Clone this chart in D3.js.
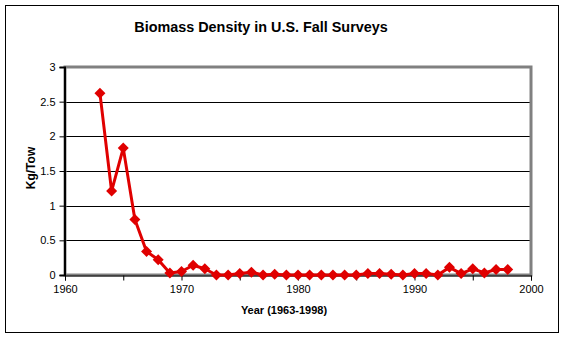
<!DOCTYPE html>
<html>
<head>
<meta charset="utf-8">
<script src="https://cdn.jsdelivr.net/npm/d3@7"></script>
<style>
  html, body { margin: 0; padding: 0; background: #fff; }
  svg { display: block; font-family: "Liberation Sans", Arial, sans-serif; }
</style>
</head>
<body>
<svg id="chart" width="566" height="339"></svg>
<script>
// Survey years and biomass density (kg per tow)
const years = [1963, 1964, 1965, 1966, 1967, 1968, 1969, 1970, 1971, 1972,
  1973, 1974, 1975, 1976, 1977, 1978, 1979, 1980, 1981, 1982,
  1983, 1984, 1985, 1986, 1987, 1988, 1989, 1990, 1991, 1992,
  1993, 1994, 1995, 1996, 1997, 1998];
const density = [2.62, 1.21, 1.83, 0.80, 0.34, 0.22, 0.03, 0.05, 0.14, 0.09,
  0.00, 0.00, 0.02, 0.04, 0.00, 0.01, 0.00, 0.00, 0.00, 0.00,
  0.00, 0.00, 0.00, 0.02, 0.02, 0.01, 0.00, 0.02, 0.02, 0.00,
  0.11, 0.02, 0.09, 0.03, 0.08, 0.08];
const xTicks = [1960, 1970, 1980, 1990, 2000];
const xMinorTicks = [1965, 1975, 1985, 1995];
const yTicks = [0, 0.5, 1, 1.5, 2, 2.5, 3];

const titleText = "Biomass Density in U.S. Fall Surveys";
const xTitle = "Year (1963-1998)";
const yTitle = "Kg/Tow";

const svg = d3.select("#chart");
const plot = { left: 65, right: 531, top: 67, bottom: 275 };

const x = d3.scaleLinear().domain([1960, 2000]).range([plot.left, plot.right]);
const y = d3.scaleLinear().domain([0, 3]).range([plot.bottom, plot.top]);

// outer frame
svg.append("rect")
  .attr("x", 5.5).attr("y", 5.5).attr("width", 553).attr("height", 327)
  .attr("fill", "#fff").attr("stroke", "#000").attr("stroke-width", 1);

// title
svg.append("text")
  .attr("x", 261).attr("y", 32)
  .attr("text-anchor", "middle")
  .attr("font-size", 14.4).attr("font-weight", "bold")
  .text(titleText);

// gridlines
svg.append("g")
  .selectAll("line")
  .data(yTicks.filter(d => d > 0 && d < 3))
  .join("line")
  .attr("x1", plot.left).attr("x2", plot.right)
  .attr("y1", d => Math.round(y(d)) + 0.5).attr("y2", d => Math.round(y(d)) + 0.5)
  .attr("stroke", "#000").attr("stroke-width", 1);

// plot area border (grey)
svg.append("rect")
  .attr("x", plot.left).attr("y", plot.top)
  .attr("width", plot.right - plot.left).attr("height", plot.bottom - plot.top)
  .attr("fill", "none").attr("stroke", "#808080").attr("stroke-width", 3);

// y axis
const yAxis = d3.axisLeft(y).tickValues(yTicks).tickSize(5).tickPadding(4)
  .tickFormat(d => d3.format("")(d));
const gy = svg.append("g").attr("transform", `translate(${plot.left - 0.5},0)`).call(yAxis);
gy.select(".domain").attr("stroke", "#000").attr("stroke-width", 2);
gy.selectAll(".tick line").attr("stroke", "#000");
gy.selectAll(".tick text").attr("font-size", 11).attr("fill", "#000")
  .attr("font-family", "Liberation Sans, Arial, sans-serif");

// x axis
const xAxis = d3.axisBottom(x).tickValues(xTicks.concat(xMinorTicks)).tickSize(5).tickPadding(5)
  .tickFormat(d => xTicks.includes(d) ? d : "");
const gx = svg.append("g").attr("transform", `translate(0,${plot.bottom + 0.5})`).call(xAxis);
gx.select(".domain").attr("stroke", "#000").attr("stroke-width", 1);
gx.selectAll(".tick line").attr("stroke", "#000");
gx.selectAll(".tick text").attr("font-size", 11).attr("fill", "#000")
  .attr("font-family", "Liberation Sans, Arial, sans-serif");

// axis titles
svg.append("text")
  .attr("x", 284).attr("y", 314)
  .attr("text-anchor", "middle")
  .attr("font-size", 11).attr("font-weight", "bold")
  .text(xTitle);

svg.append("text")
  .attr("transform", `translate(35,168) rotate(-90)`)
  .attr("text-anchor", "middle")
  .attr("font-size", 12).attr("font-weight", "bold")
  .text(yTitle);

// series line
const pts = years.map((yr, i) => [yr, density[i]]);
const red = "#e00000";
svg.append("path")
  .datum(pts)
  .attr("fill", "none")
  .attr("stroke", red)
  .attr("stroke-width", 3)
  .attr("stroke-linejoin", "round")
  .attr("d", d3.line().x(d => x(d[0])).y(d => y(d[1])));

// diamond markers
svg.append("g")
  .selectAll("path")
  .data(pts)
  .join("path")
  .attr("transform", d => `translate(${x(d[0])},${y(d[1])})`)
  .attr("d", "M0,-5.5L5.5,0L0,5.5L-5.5,0Z")
  .attr("fill", red);
</script>
</body>
</html>
